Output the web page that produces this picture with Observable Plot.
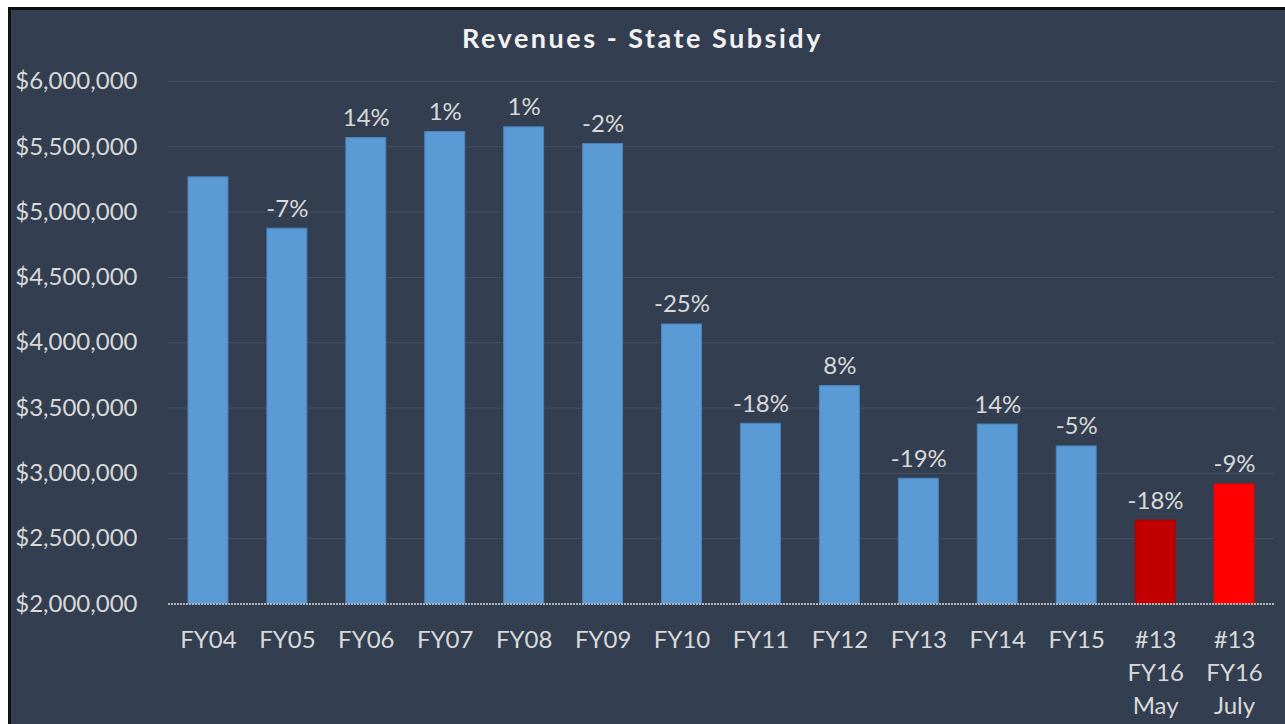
<!DOCTYPE html>
<html><head><meta charset="utf-8">
<script src="https://cdn.jsdelivr.net/npm/d3@7"></script>
<script src="https://cdn.jsdelivr.net/npm/@observablehq/plot@0.6"></script>
<style>
html,body{margin:0;padding:0;background:#fff;width:1285px;height:724px;overflow:hidden;}
#frame{position:absolute;left:8px;top:7px;width:1277px;height:717px;box-sizing:border-box;background:#333e50;border-left:3px solid #111;border-top:3px solid #111;}
#title{position:absolute;left:0;top:24px;width:1285px;text-align:center;font:bold 27px Lato,sans-serif;line-height:1;color:#f2f2f2;letter-spacing:2.5px;}
#chart{position:absolute;left:0;top:60px;}
</style></head>
<body>
<div id="frame"></div>
<div id="title">Revenues - State Subsidy</div>
<div id="chart"></div>
<script>
const categories = ["FY04","FY05","FY06","FY07","FY08","FY09","FY10","FY11","FY12","FY13","FY14","FY15","#13\nFY16\nMay","#13\nFY16\nJuly"];
const revenues = [5266000,4873000,5567000,5613000,5649000,5521000,4140000,3380000,3668000,2959000,3374000,3206000,2639000,2915000];
const changeLabels = ["","-7%","14%","1%","1%","-2%","-25%","-18%","8%","-19%","14%","-5%","-18%","-9%"];
const yTicks = [2000000,2500000,3000000,3500000,4000000,4500000,5000000,5500000,6000000];

const data = categories.map((c, i) => ({category: c, value: revenues[i], label: changeLabels[i]}));
const fillFor = d => d.category.endsWith("May") ? "#c00000" : d.category.endsWith("July") ? "#ff0000" : "#5b9bd5";
const strokeFor = d => d.category.endsWith("May") ? "#b00000" : d.category.endsWith("July") ? "#ee0000" : "#4a84bf";

const chart = Plot.plot({
  width: 1285,
  height: 664,
  marginTop: 21,
  marginBottom: 120.5,
  marginLeft: 168,
  marginRight: 11,
  style: {background: "transparent", color: "#d9d9d9", fontFamily: "Lato, sans-serif", fontSize: "24px"},
  x: {domain: categories, paddingInner: 0.4937, paddingOuter: 0.253, round: false, label: null},
  y: {domain: [2000000, 6000000], label: null},
  marks: [
    Plot.ruleY(yTicks.filter(v => v > 2000000), {stroke: "#445066", strokeWidth: 1}),
    Plot.barY(data, {x: "category", y1: 2000000, y2: "value", fill: fillFor, stroke: strokeFor, strokeWidth: 1}),
    Plot.ruleY([2000000], {stroke: "#b4b4b4", strokeWidth: 2, strokeDasharray: "2,1"}),
    Plot.text(data, {x: "category", y: "value", text: "label", lineAnchor: "bottom", dy: -12, fill: "#d9d9d9", fontSize: 24}),
    Plot.axisY({ticks: yTicks, tickSize: 0, tickPadding: 31, tickFormat: d3.format("$,.0f"), fontSize: 24, label: null}),
    Plot.axisX({tickSize: 0, tickPadding: 20, lineHeight: 1.38, fontSize: 24, label: null})
  ]
});
document.getElementById("chart").appendChild(chart);
</script>
</body></html>
